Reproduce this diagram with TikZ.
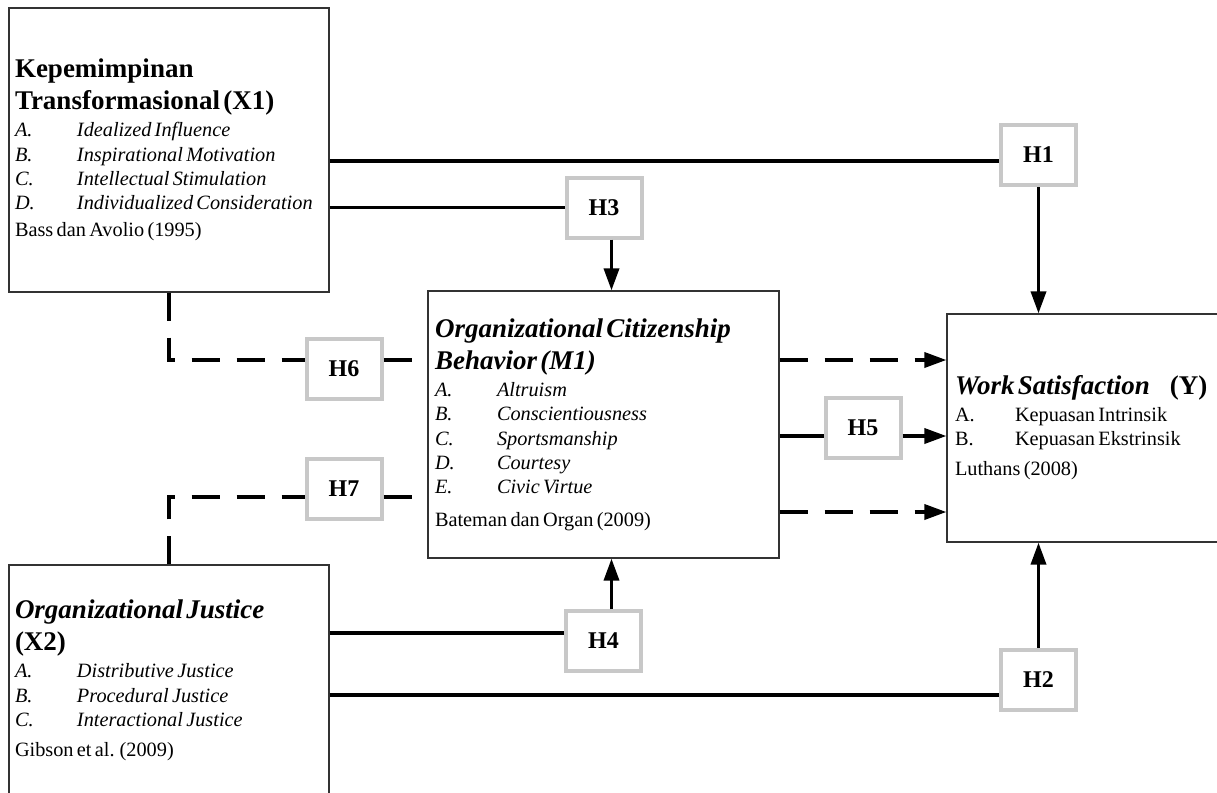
\documentclass[tikz,border=0pt]{standalone}
\usepackage{fontspec}
\setmainfont{Liberation Serif}
\usetikzlibrary{arrows.meta,positioning}
\definecolor{hypgray}{HTML}{C8C8C8}
\setlength{\parindent}{0pt}
\newcommand{\titlefont}{\fontsize{27}{32}\selectfont\bfseries}
\newcommand{\itemfont}{\fontsize{20.3}{24.3}\selectfont}
\newcommand{\varitem}[2]{\makebox[62pt][l]{#1}#2\par}

\begin{document}
\begin{tikzpicture}[x=1pt, y=-1pt,
                    varbox/.style = {draw = black!80, line width = 1.2pt, fill = white,
                                     align = left, inner ysep = 0pt},
                    hypbox/.style = {draw = hypgray, line width = 4pt, fill = white,
                                     minimum width = 75pt, minimum height = 60pt,
                                     font = \fontsize{24}{28}\selectfont\bfseries},
                    link/.style = {line width = 3.5pt},
                    dlink/.style = {link, dash pattern = on 28pt off 17pt},
                    arr/.style = {-{Triangle[length = 22pt, width = 15pt]}}]
        \useasboundingbox (0,0) rectangle (1217,792);
        \clip (0,0) rectangle (1217,792);
        %variables
        \node[varbox, minimum width = 320pt, minimum height = 284pt, inner xsep = 6pt,
              text width = 308pt] (X1) at (169,150) {%
            {\titlefont Kepemimpinan\\ Transformasional (X1)\par}
            \vspace{3pt}
            {\itemfont\itshape
            \varitem{A.}{Idealized Influence}
            \varitem{B.}{Inspirational Motivation}
            \varitem{C.}{Intellectual Stimulation}
            \varitem{D.}{Individualized Consideration}}
            \vspace{3pt}
            {\itemfont Bass dan Avolio (1995)\par}};
        \node[varbox, minimum width = 320pt, minimum height = 231pt, inner xsep = 6pt,
              text width = 308pt] (X2) at (169,680.5) {%
            {\titlefont\textit{Organizational Justice}\\ (X2)\par}
            \vspace{3pt}
            {\itemfont\itshape
            \varitem{A.}{Distributive Justice}
            \varitem{B.}{Procedural Justice}
            \varitem{C.}{Interactional Justice}}
            \vspace{6pt}
            {\itemfont Gibson et al. (2009)\par}};
        \node[varbox, minimum width = 351pt, minimum height = 267pt, inner xsep = 7pt,
              text width = 337pt] (M1) at (603.5,424.5) {%
            {\titlefont\itshape Organizational Citizenship\\ Behavior (M1)\par}
            \vspace{3pt}
            {\itemfont\itshape
            \varitem{A.}{Altruism}
            \varitem{B.}{Conscientiousness}
            \varitem{C.}{Sportsmanship}
            \varitem{D.}{Courtesy}
            \varitem{E.}{Civic Virtue}}
            \vspace{8pt}
            {\itemfont Bateman dan Organ (2009)\par}};
        \node[varbox, minimum width = 275pt, minimum height = 228pt, inner xsep = 8pt,
              text width = 259pt] (Y) at (1084.5,428) {%
            {\titlefont\textit{Work Satisfaction}\hspace{20pt}(Y)\par}
            \vspace{2pt}
            {\itemfont
            \makebox[60pt][l]{A.}Kepuasan Intrinsik\par
            \makebox[60pt][l]{B.}Kepuasan Ekstrinsik\par}
            \vspace{6pt}
            {\itemfont Luthans (2008)\par}};
        %hypotheses
        \node[hypbox] (H1) at (1038.5,155) {H1};
        \node[hypbox] (H2) at (1038.5,679.5) {H2};
        \node[hypbox] (H3) at (604,207.5) {H3};
        \node[hypbox] (H4) at (603.5,641) {H4};
        \node[hypbox] (H5) at (863,427.5) {H5};
        \node[hypbox] (H6) at (344,369) {H6};
        \node[hypbox] (H7) at (344,488.5) {H7};
        %rows of the connectors
        \coordinate (ocbx) at (611.5,0);
        \coordinate (rowH1) at (0,161);
        \coordinate (rowH6) at (0,360);
        \coordinate (rowH5) at (0,436);
        \coordinate (rowH7) at (0,497);
        \coordinate (rowlow) at (0,512);
        \coordinate (rowH4) at (0,633);
        \coordinate (rowH2) at (0,695);
        %solid
        \draw[link] (X1.east |- rowH1) -- (H1.west |- rowH1);
        \draw[link, arr] (H1.south) -- (H1.south |- Y.north);
        \draw[link] (X1.east |- H3.west) -- (H3.west);
        \draw[link, arr] (H3.south -| ocbx) -- (M1.north -| ocbx);
        \draw[link] (M1.east |- rowH5) -- (H5.west |- rowH5);
        \draw[link, arr] (H5.east |- rowH5) -- (Y.west |- rowH5);
        \draw[link] (X2.east |- rowH4) -- (H4.west |- rowH4);
        \draw[link, arr] (H4.north -| ocbx) -- (M1.south -| ocbx);
        \draw[link] (X2.east |- rowH2) -- (H2.west |- rowH2);
        \draw[link, arr] (H2.north) -- (H2.north |- Y.south);
        %dashed
        \draw[dlink] (X1.south) |- (H6.west |- rowH6);
        \draw[dlink] (H6.east |- rowH6) -- (M1.west |- rowH6);
        \draw[dlink] (X2.north) |- (H7.west |- rowH7);
        \draw[dlink] (H7.east |- rowH7) -- (M1.west |- rowH7);
        \draw[dlink, arr] (M1.east |- rowH6) -- (Y.west |- rowH6);
        \draw[dlink, arr] (M1.east |- rowlow) -- (Y.west |- rowlow);
\end{tikzpicture}
\end{document}
